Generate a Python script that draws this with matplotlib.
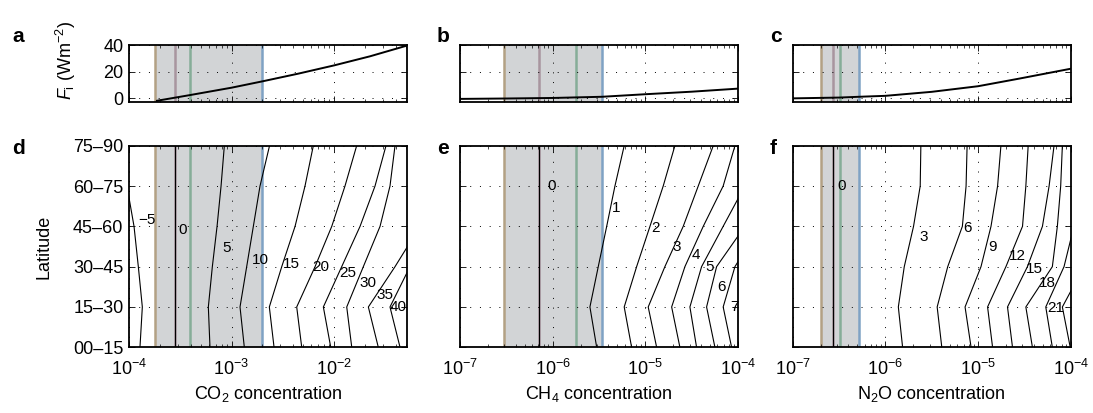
import matplotlib
matplotlib.use("Agg")
import matplotlib.pyplot as plt
import numpy as np

plt.rcParams['font.family'] = ['Liberation Sans', 'DejaVu Sans']
plt.rcParams['mathtext.fontset'] = 'custom'
plt.rcParams['mathtext.rm'] = 'Liberation Sans'
plt.rcParams['mathtext.it'] = 'Liberation Sans:italic'
plt.rcParams['font.size'] = 13

# latitude bands (rows of the contour panels)
lat_labels = ['00\u201315', '15\u201330', '30\u201345', '45\u201360', '60\u201375', '75\u201390']
lat_idx = np.arange(6)

# marked concentrations: LGM, pre-industrial, present, high
co2_marks = [1.8e-4, 2.8e-4, 3.9e-4, 2.0e-3]
ch4_marks = [3.0e-7, 7.1e-7, 1.8e-6, 3.4e-6]
n2o_marks = [2.0e-7, 2.7e-7, 3.2e-7, 5.2e-7]
mark_colors = ['#b3a184', '#a8959f', '#86ad98', '#7fa2c4']
band_color = '#d2d4d6'

# radiative forcing curves (log10 concentration, W m-2)
co2_f_x = [-3.727, -3.41, -3.0, -2.696, -2.35, -2.0, -1.65, -1.291]
co2_f_y = [-1.8, 2.4, 8.0, 12.8, 18.5, 24.7, 31.5, 39.5]
ch4_f_x = [-7.0, -6.5, -6.0, -5.465, -5.0, -4.5, -4.0]
ch4_f_y = [-0.4, -0.1, 0.3, 1.2, 3.1, 5.0, 7.3]
n2o_f_x = [-7.0, -6.5, -6.28, -6.0, -5.5, -5.0, -4.556, -4.0]
n2o_f_y = [0.0, 0.6, 1.2, 1.9, 4.9, 9.1, 14.8, 22.2]

# temperature change contours: log10 concentration at each latitude row
co2_levels = [-5, 0, 5, 10, 15, 20, 25, 30, 35, 40]
co2_cont = [
    [-3.893, -3.870, -3.909, -3.951, -4.02, -4.10],
    [-3.553, -3.553, -3.553, -3.553, -3.553, -3.553],
    [-3.210, -3.226, -3.187, -3.141, -3.102, -3.070],
    [-2.875, -2.917, -2.852, -2.787, -2.722, -2.629],
    [-2.585, -2.631, -2.510, -2.380, -2.283, -2.202],
    [-2.315, -2.364, -2.185, -2.022, -1.893, -1.779],
    [-2.032, -2.104, -1.925, -1.746, -1.600, -1.493],
    [-1.827, -1.876, -1.714, -1.551, -1.454, -1.405],
    [-1.568, -1.665, -1.405, -1.161, -1.0, -0.9],
    [-1.356, -1.454, -1.259, -1.0, -0.9, -0.8],
]
co2_lab = [(-3.827, 3.16), (-3.480, 2.91), (-3.047, 2.46), (-2.722, 2.17), (-2.413, 2.07),
           (-2.127, 1.98), (-1.870, 1.85), (-1.665, 1.59), (-1.502, 1.30), (-1.373, 1.01)]

ch4_levels = [0, 1, 2, 3, 4, 5, 6, 7]
ch4_cont = [
    [-6.149, -6.149, -6.149, -6.149, -6.149, -6.149],
    [-5.525, -5.598, -5.508, -5.417, -5.328, -5.228],
    [-5.148, -5.228, -5.094, -4.950, -4.807, -4.681],
    [-4.878, -4.969, -4.789, -4.591, -4.429, -4.267],
    [-4.627, -4.716, -4.573, -4.375, -4.160, -4.033],
    [-4.447, -4.519, -4.393, -4.160, -3.926, -3.764],
    [-4.249, -4.339, -4.231, -3.926, -3.66, -3.44],
    [-4.069, -4.160, -4.033, -3.764, -3.5, -3.3],
]
ch4_lab = [(-6.008, 3.99), (-5.310, 3.45), (-4.889, 2.95), (-4.662, 2.48),
           (-4.457, 2.29), (-4.303, 1.98), (-4.177, 1.50), (-4.041, 0.99)]

n2o_levels = [0, 3, 6, 9, 12, 15, 18, 21, 24]
n2o_cont = [
    [-6.569, -6.569, -6.569, -6.569, -6.569, -6.569],
    [-5.814, -5.860, -5.796, -5.696, -5.624, -5.617],
    [-5.391, -5.441, -5.327, -5.169, -5.129, -5.118],
    [-5.075, -5.140, -4.968, -4.860, -4.789, -4.753],
    [-4.843, -4.897, -4.699, -4.520, -4.484, -4.459],
    [-4.628, -4.682, -4.467, -4.305, -4.233, -4.180],
    [-4.413, -4.484, -4.198, -4.144, -4.108, -4.090],
    [-4.198, -4.269, -4.072, -3.965, -3.86, -3.8],
    [-4.005, -4.090, -3.857, -3.7, -3.6, -3.5],
]
n2o_lab = [(-6.477, 3.99), (-5.581, 2.74), (-5.118, 2.95), (-4.843, 2.48), (-4.574, 2.27),
           (-4.395, 1.94), (-4.252, 1.60), (-4.161, 0.97), None]

W, H = 1093, 413
fig = plt.figure(figsize=(W / 100, H / 100), dpi=100)


def px_axes(l, t, r, b):
    return fig.add_axes([l / W, 1 - b / H, (r - l) / W, (b - t) / H])


def style(ax, xlim):
    ax.set_xscale('log')
    ax.set_xlim(*xlim)
    ax.tick_params(which='both', direction='in', top=True, right=True)
    ax.tick_params(which='major', length=4, width=0.6, pad=8)
    ax.tick_params(which='minor', length=2, width=0.5)
    ax.grid(True, which='major', color='k', linestyle=(0, (1, 9)), linewidth=0.7)
    for s in ax.spines.values():
        s.set_linewidth(1.3)


def marks(ax, m):
    ax.axvspan(m[0], m[3], color=band_color, lw=0, zorder=0)
    for v, c in zip(m, mark_colors):
        ax.axvline(v, color=c, lw=1.8, zorder=1)


tops = [(129, 406.7), (460, 738), (792.7, 1070.7)]
xlims = [(1e-4, 10 ** -1.291), (1e-7, 1e-4), (1e-7, 1e-4)]
all_marks = [co2_marks, ch4_marks, n2o_marks]
forcing = [(co2_f_x, co2_f_y), (ch4_f_x, ch4_f_y), (n2o_f_x, n2o_f_y)]
conts = [(co2_levels, co2_cont, co2_lab), (ch4_levels, ch4_cont, ch4_lab),
         (n2o_levels, n2o_cont, n2o_lab)]
xlabels = ['CO$_2$ concentration', 'CH$_4$ concentration', 'N$_2$O concentration']
letters_top = ['a', 'b', 'c']
letters_bot = ['d', 'e', 'f']

for i in range(3):
    l, r = tops[i]
    lx = (l - 117) / W if i == 0 else (l - 23) / W
    # forcing panel
    ax = px_axes(l, 45, r, 101.7)
    style(ax, xlims[i])
    ax.tick_params(axis='y', pad=4)
    marks(ax, all_marks[i])
    fx, fy = forcing[i]
    ax.plot(10 ** np.array(fx), fy, color='k', lw=1.4, zorder=3)
    ax.set_ylim(-2.5, 40)
    ax.set_yticks([0, 20, 40])
    ax.tick_params(axis='x', which='both', labelbottom=False)
    if i == 0:
        ax.set_ylabel('$F_\\mathrm{i}$ (Wm$^{-2}$)')
        ax.yaxis.set_label_coords(-0.185, 0.72)
    else:
        ax.set_yticklabels([])
    fig.text(lx, 1 - 36 / H, letters_top[i],
             fontsize=15, fontweight='bold', ha='left', va='center')

    # temperature contour panel
    ax2 = px_axes(l, 145.7, r, 347.3)
    style(ax2, xlims[i])
    ax2.tick_params(axis='y', pad=4)
    marks(ax2, all_marks[i])
    levels, cont, labs = conts[i]
    for lev, xs, lab in zip(levels, cont, labs):
        ax2.plot(10 ** np.array(xs), lat_idx, color='k', lw=0.8, zorder=3)
        if lab is not None:
            txt = str(lev).replace('-', '\u2212')
            ax2.text(10 ** lab[0], lab[1], txt, fontsize=11, ha='center', va='center', zorder=4)
    ax2.set_ylim(0, 5)
    ax2.set_yticks(lat_idx)
    if i == 0:
        ax2.set_yticklabels(lat_labels)
        ax2.set_ylabel('Latitude')
        ax2.yaxis.set_label_coords(-0.275, 0.5)
    else:
        ax2.set_yticklabels([])
    ax2.set_xlabel(xlabels[i], labelpad=4)
    fig.text(lx, 1 - 148 / H, letters_bot[i],
             fontsize=15, fontweight='bold', ha='left', va='center')

fig.savefig('out.png', dpi=100)
